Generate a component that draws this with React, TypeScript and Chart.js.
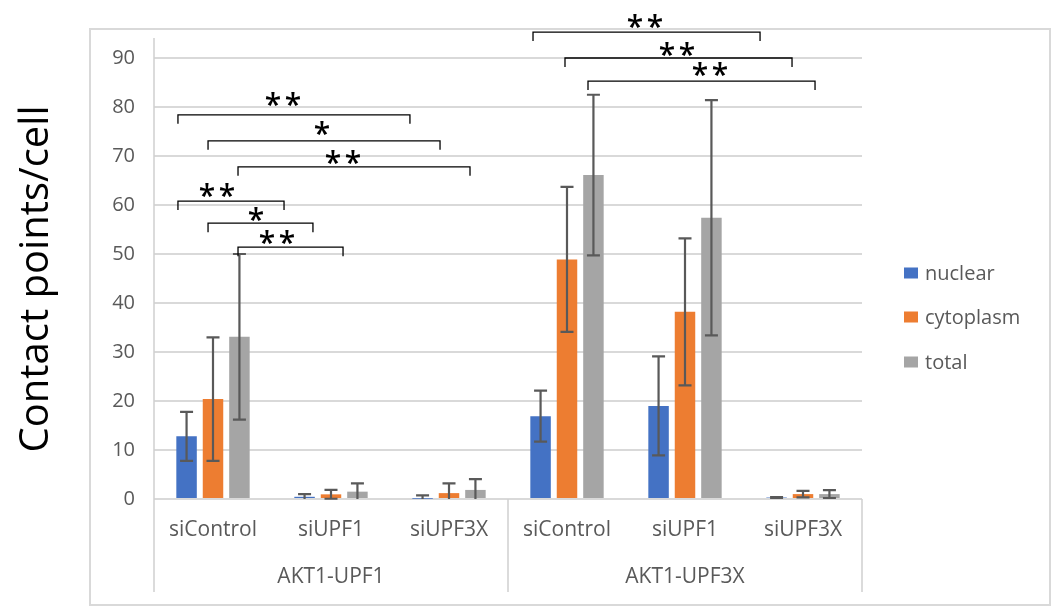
import React, { useEffect, useRef } from "react";
import { Chart, registerables } from "chart.js";

Chart.register(...registerables);

// ---- data ----
const categories = ["siControl", "siUPF1", "siUPF3X", "siControl", "siUPF1", "siUPF3X"];
const groups = ["AKT1-UPF1", "AKT1-UPF3X"];
const seriesNames = ["nuclear", "cytoplasm", "total"];
const nuclear = [12.8, 0.45, 0.05, 16.9, 19.0, 0.3];
const nuclearErr = [5.0, 0.55, 0.7, 5.2, 10.1, 0.1];
const cytoplasm = [20.4, 0.95, 1.2, 48.9, 38.2, 1.0];
const cytoplasmErr = [12.6, 0.9, 2.0, 14.8, 15.0, 0.65];
const total = [33.1, 1.5, 1.85, 66.1, 57.4, 1.0];
const totalErr = [16.9, 1.7, 2.2, 16.4, 24.0, 0.8];
const yTicks = [0, 10, 20, 30, 40, 50, 60, 70, 80, 90];
const yTitle = "Contact points/cell";

// significance brackets (x in category units, y in data units)
const brackets = [
  { x1: -0.297, x2: 1.669, y: 78.4, label: "**", lx: 0.593, ly: 81.4 },
  { x1: -0.042, x2: 1.924, y: 73.1, label: "*", lx: 0.924, ly: 75.5 },
  { x1: 0.212, x2: 2.178, y: 67.8, label: "**", lx: 1.102, ly: 69.6 },
  { x1: -0.297, x2: 0.602, y: 60.8, label: "**", lx: 0.034, ly: 62.9 },
  { x1: -0.042, x2: 0.847, y: 56.3, label: "*", lx: 0.364, ly: 58.0 },
  { x1: 0.212, x2: 1.102, y: 51.4, label: "**", lx: 0.542, ly: 53.3 },
  { x1: 2.712, x2: 4.636, y: 95.3, label: "**", lx: 3.661, ly: 97.3 },
  { x1: 2.983, x2: 4.907, y: 90.0, label: "**", lx: 3.932, ly: 91.6 },
  { x1: 3.178, x2: 5.102, y: 85.3, label: "**", lx: 4.212, ly: 87.6 },
];

const colors = ["#4472C4", "#ED7D31", "#A5A5A5"];
const FONT = "'Open Sans', 'DejaVu Sans', sans-serif";
const TEXT = "#595959";

const decorPlugin = {
  id: "decor",
  beforeDraw(chart: any) {
    const ctx = chart.ctx;
    ctx.save();
    ctx.fillStyle = "#ffffff";
    ctx.fillRect(0, 0, chart.width, chart.height);
    ctx.strokeStyle = "#d9d9d9";
    ctx.lineWidth = 2;
    ctx.strokeRect(90, 29, 960, 576);
    ctx.restore();
  },
  afterDatasetsDraw(chart: any) {
    const ctx = chart.ctx;
    const ys = chart.scales.y;
    const errs = [nuclearErr, cytoplasmErr, totalErr];
    const vals = [nuclear, cytoplasm, total];
    ctx.save();
    ctx.strokeStyle = "#595959";
    ctx.lineWidth = 2.2;
    for (let d = 0; d < 3; d++) {
      const meta = chart.getDatasetMeta(d);
      meta.data.forEach((bar: any, i: number) => {
        const x = bar.x;
        const hi = ys.getPixelForValue(vals[d][i] + errs[d][i]);
        const lo = ys.getPixelForValue(Math.max(0, vals[d][i] - errs[d][i]));
        ctx.beginPath();
        ctx.moveTo(x, hi);
        ctx.lineTo(x, lo);
        ctx.moveTo(x - 6.5, hi);
        ctx.lineTo(x + 6.5, hi);
        if (vals[d][i] - errs[d][i] > 0) {
          ctx.moveTo(x - 6.5, lo);
          ctx.lineTo(x + 6.5, lo);
        }
        ctx.stroke();
      });
    }
    ctx.restore();
  },
  afterDraw(chart: any) {
    const ctx = chart.ctx;
    const xs = chart.scales.x;
    const ys = chart.scales.y;
    const area = chart.chartArea;
    ctx.save();
    // axis / separator lines
    ctx.strokeStyle = "#d0d0d0";
    ctx.lineWidth = 1.5;
    ctx.beginPath();
    ctx.moveTo(area.left, 38);
    ctx.lineTo(area.left, 592);
    const mid = (xs.getPixelForValue(2) + xs.getPixelForValue(3)) / 2;
    ctx.moveTo(mid, area.bottom);
    ctx.lineTo(mid, 592);
    ctx.moveTo(area.right, area.bottom);
    ctx.lineTo(area.right, 592);
    ctx.stroke();

    // group labels
    ctx.fillStyle = TEXT;
    ctx.font = `21px ${FONT}`;
    ctx.textAlign = "center";
    ctx.textBaseline = "middle";
    ctx.fillText(groups[0], (area.left + mid) / 2, 577);
    ctx.fillText(groups[1], (mid + area.right) / 2, 577);

    // y title
    ctx.save();
    ctx.translate(37, 279);
    ctx.rotate(-Math.PI / 2);
    ctx.fillStyle = "#000000";
    ctx.font = `40px ${FONT}`;
    ctx.textAlign = "center";
    ctx.textBaseline = "middle";
    ctx.fillText(yTitle, 0, 0);
    ctx.restore();

    // legend
    const ly = [273, 317, 362];
    ctx.font = `20px ${FONT}`;
    ctx.textAlign = "left";
    ctx.textBaseline = "middle";
    seriesNames.forEach((n, i) => {
      ctx.fillStyle = colors[i];
      ctx.fillRect(904, ly[i] - 5.5, 14, 11);
      ctx.fillStyle = TEXT;
      ctx.fillText(n, 925, ly[i] + 1);
    });

    // brackets
    ctx.strokeStyle = "#000000";
    ctx.lineWidth = 1.3;
    ctx.fillStyle = "#000000";
    ctx.font = `600 30px ${FONT}`;
    ctx.textAlign = "center";
    ctx.textBaseline = "alphabetic";
    brackets.forEach((b) => {
      const x1 = xs.getPixelForValue(b.x1);
      const x2 = xs.getPixelForValue(b.x2);
      const y = ys.getPixelForValue(b.y);
      ctx.beginPath();
      ctx.moveTo(x1, y + 9);
      ctx.lineTo(x1, y);
      ctx.lineTo(x2, y);
      ctx.lineTo(x2, y + 9);
      ctx.stroke();
      const lx = xs.getPixelForValue(b.lx);
      const lyp = ys.getPixelForValue(b.ly) + 15;
      if (b.label.length === 2) {
        ctx.fillText("*", lx - 10, lyp);
        ctx.fillText("*", lx + 10, lyp);
      } else {
        ctx.fillText("*", lx, lyp);
      }
    });
    ctx.restore();
  },
};

export default function App() {
  const ref = useRef<HTMLCanvasElement | null>(null);
  useEffect(() => {
    document.body.style.margin = "0";
    const canvas = ref.current!;
    const chart = new Chart(canvas, {
      type: "bar",
      data: {
        labels: categories,
        datasets: [
          { label: seriesNames[0], data: nuclear, backgroundColor: colors[0] },
          { label: seriesNames[1], data: cytoplasm, backgroundColor: colors[1] },
          { label: seriesNames[2], data: total, backgroundColor: colors[2] },
        ],
      },
      options: {
        animation: false,
        responsive: false,
        devicePixelRatio: 1,
        layout: { padding: { left: 90, right: 191, top: 58, bottom: 0 } },
        datasets: { bar: { categoryPercentage: 0.672, barPercentage: 0.775 } },
        plugins: { legend: { display: false }, tooltip: { enabled: false } },
        scales: {
          y: {
            min: 0,
            max: 90,
            afterBuildTicks: (s: any) => {
              s.ticks = yTicks.map((v) => ({ value: v }));
            },
            afterFit: (s: any) => {
              s.width = 64;
            },
            ticks: { color: TEXT, font: { family: FONT, size: 20 }, padding: 19 },
            grid: { color: "#d9d9d9", lineWidth: 2, drawTicks: false },
            border: { display: false },
          },
          x: {
            afterFit: (s: any) => {
              s.height = 115;
            },
            ticks: { color: TEXT, font: { family: FONT, size: 21 }, padding: 18, maxRotation: 0, autoSkip: false },
            grid: { display: false, drawTicks: false },
            border: { display: false },
          },
        },
      },
      plugins: [decorPlugin],
    });
    return () => chart.destroy();
  }, []);
  return (
    <div style={{ position: "absolute", left: 0, top: 0, width: 1053, height: 614 }}>
      <canvas ref={ref} width={1053} height={614} />
    </div>
  );
}
